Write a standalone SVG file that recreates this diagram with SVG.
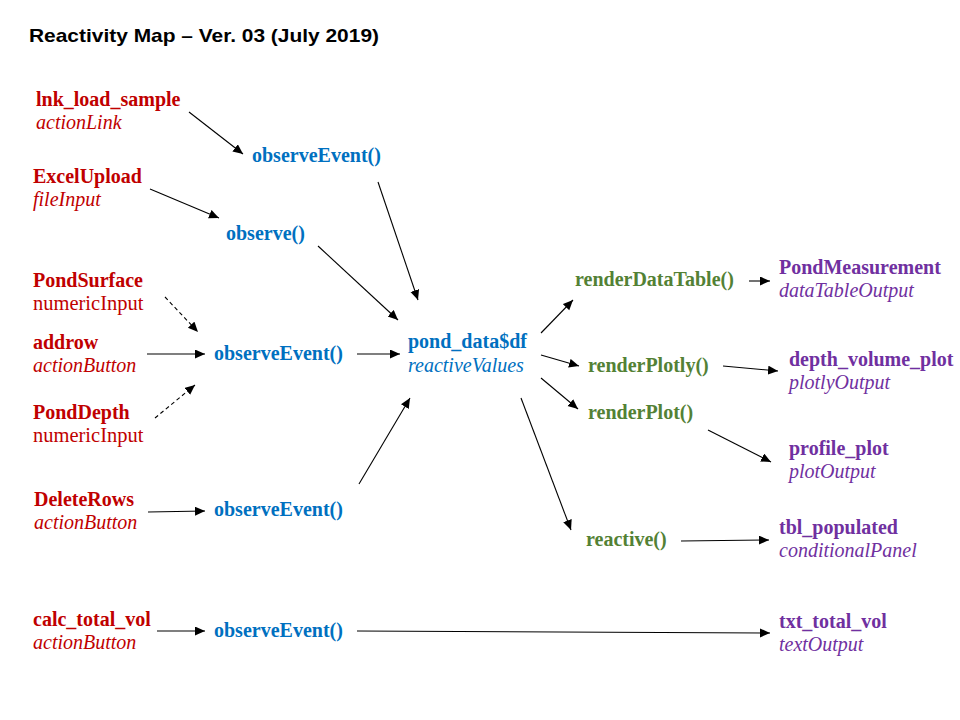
<svg xmlns="http://www.w3.org/2000/svg" width="960" height="720" viewBox="0 0 960 720">
<style>
.t{font-family:"Liberation Serif","Times New Roman",serif;font-size:20.5px}
.b{font-weight:bold;font-size:20px}
.i{font-style:italic;font-size:20px}
.red{fill:#C00000}
.blue{fill:#0070C0}
.green{fill:#538135}
.purple{fill:#7030A0}
.title{font-family:"Liberation Sans",Arial,sans-serif;font-weight:bold;font-size:19px;fill:#000}
.c line{stroke:#000;stroke-width:1.1;marker-end:url(#ah)}
.c .d{stroke-dasharray:4 3}
</style>
<defs>
<marker id="ah" markerUnits="userSpaceOnUse" markerWidth="12" markerHeight="10" refX="10" refY="4.5" orient="auto">
<path d="M0,0 L10,4.5 L0,9 Z" fill="#000"/>
</marker>
</defs>
<rect width="960" height="720" fill="#fff"/>
<text class="title" x="29" y="42" textLength="350" lengthAdjust="spacingAndGlyphs">Reactivity Map – Ver. 03 (July 2019)</text>

<g class="c" id="connectors">
<line x1="189" y1="112" x2="243" y2="154"/>
<line x1="150" y1="189" x2="219" y2="218"/>
<line x1="378" y1="182" x2="418" y2="300"/>
<line x1="318" y1="246" x2="398" y2="320"/>
<line class="d" x1="165" y1="297" x2="198" y2="332"/>
<line x1="147" y1="354" x2="205" y2="354"/>
<line class="d" x1="155" y1="418" x2="195" y2="385"/>
<line x1="357" y1="354" x2="400" y2="354"/>
<line x1="359" y1="484" x2="410" y2="398"/>
<line x1="148" y1="512" x2="205" y2="511"/>
<line x1="157" y1="631" x2="205" y2="631"/>
<line x1="357" y1="631" x2="770" y2="633"/>
<line x1="541" y1="333" x2="573" y2="300"/>
<line x1="541" y1="355" x2="579" y2="366"/>
<line x1="541" y1="378" x2="578" y2="409"/>
<line x1="521" y1="398" x2="571" y2="530"/>
<line x1="749" y1="281" x2="770" y2="281"/>
<line x1="723" y1="366" x2="778" y2="371"/>
<line x1="708" y1="430" x2="771" y2="462"/>
<line x1="681" y1="541" x2="769" y2="540"/>
</g>

<g id="lnk_load_sample"><text class="t b red" x="36" y="106">lnk_load_sample</text><text class="t i red" x="36" y="129">actionLink</text></g>
<g id="ExcelUpload"><text class="t b red" x="33" y="183">ExcelUpload</text><text class="t i red" x="33" y="206">fileInput</text></g>
<g id="PondSurface"><text class="t b red" x="33" y="287">PondSurface</text><text class="t red" x="33" y="310">numericInput</text></g>
<g id="addrow"><text class="t b red" x="33" y="349">addrow</text><text class="t i red" x="33" y="372">actionButton</text></g>
<g id="PondDepth"><text class="t b red" x="33" y="419">PondDepth</text><text class="t red" x="33" y="442">numericInput</text></g>
<g id="DeleteRows"><text class="t b red" x="34" y="506">DeleteRows</text><text class="t i red" x="34" y="529">actionButton</text></g>
<g id="calc_total_vol"><text class="t b red" x="33" y="626">calc_total_vol</text><text class="t i red" x="33" y="649">actionButton</text></g>

<g id="observeEvent1"><text class="t b blue" x="252" y="162">observeEvent()</text></g>
<g id="observe"><text class="t b blue" x="226" y="240">observe()</text></g>
<g id="observeEvent2"><text class="t b blue" x="214" y="360">observeEvent()</text></g>
<g id="observeEvent3"><text class="t b blue" x="214" y="516">observeEvent()</text></g>
<g id="observeEvent4"><text class="t b blue" x="214" y="637">observeEvent()</text></g>

<g id="pond_data"><text class="t b blue" x="408" y="348">pond_data$df</text><text class="t i blue" x="408" y="372">reactiveValues</text></g>

<g id="renderDataTable"><text class="t b green" x="575" y="286">renderDataTable()</text></g>
<g id="renderPlotly"><text class="t b green" x="588" y="372">renderPlotly()</text></g>
<g id="renderPlot"><text class="t b green" x="588" y="419">renderPlot()</text></g>
<g id="reactive"><text class="t b green" x="586" y="546">reactive()</text></g>

<g id="PondMeasurement"><text class="t b purple" x="779" y="274">PondMeasurement</text><text class="t i purple" x="779" y="297">dataTableOutput</text></g>
<g id="depth_volume_plot"><text class="t b purple" x="789" y="366">depth_volume_plot</text><text class="t i purple" x="789" y="389">plotlyOutput</text></g>
<g id="profile_plot"><text class="t b purple" x="789" y="455">profile_plot</text><text class="t i purple" x="789" y="478">plotOutput</text></g>
<g id="tbl_populated"><text class="t b purple" x="779" y="534">tbl_populated</text><text class="t i purple" x="779" y="557">conditionalPanel</text></g>
<g id="txt_total_vol"><text class="t b purple" x="779" y="628">txt_total_vol</text><text class="t i purple" x="779" y="651">textOutput</text></g>
</svg>
